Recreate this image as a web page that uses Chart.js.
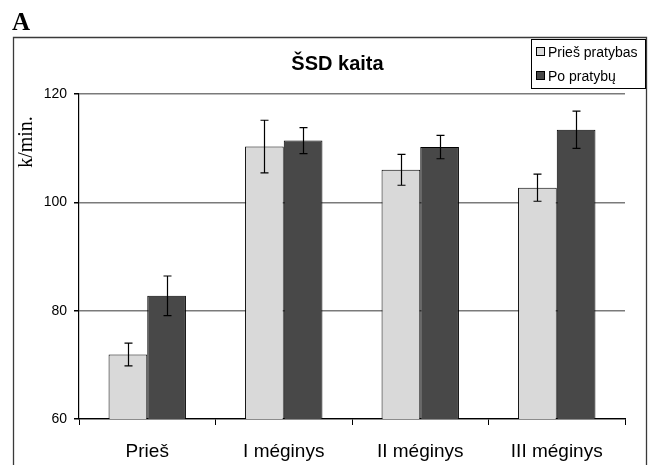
<!DOCTYPE html>
<html>
<head>
<meta charset="utf-8">
<script src="https://cdn.jsdelivr.net/npm/chart.js@4.4.1/dist/chart.umd.min.js"></script>
<style>
  html, body { margin: 0; padding: 0; background: #ffffff; }
  #wrap { position: relative; width: 650px; height: 465px; }
  canvas { display: block; }
</style>
</head>
<body>
<div id="wrap"><canvas id="c" width="650" height="465"></canvas></div>
<script>
// ---- data ----
const panelLabel = 'A';
const chartTitle = 'ŠSD kaita';
const yAxisTitle = 'k/min.';
const categories = ['Prieš', 'I méginys', 'II méginys', 'III méginys'];
const seriesNames = ['Prieš pratybas', 'Po pratybų'];
const beforeValues = [71.9, 110.3, 106.0, 102.7];
const beforeErrors = [2.1, 4.85, 2.85, 2.5];
const afterValues = [82.75, 111.4, 110.2, 113.4];
const afterErrors = [3.65, 2.4, 2.15, 3.45];
const yTicks = [60, 80, 100, 120];

const lightFill = '#d9d9d9';
const darkFill = '#484848';
const errors = [beforeErrors, afterErrors];

const CHART_LEFT = 79, CHART_RIGHT = 625, CHART_TOP = 94, CHART_BOTTOM = 419;

const decorPlugin = {
  id: 'decor',
  afterDraw(chart) {
    const ctx = chart.ctx;
    ctx.save();
    // outer frame
    ctx.strokeStyle = '#3a3a3a';
    ctx.lineWidth = 1.3;
    ctx.beginPath();
    ctx.moveTo(13.5, 470);
    ctx.lineTo(13.5, 37.5);
    ctx.lineTo(646.5, 37.5);
    ctx.lineTo(646.5, 470);
    ctx.stroke();
    // panel label
    ctx.fillStyle = '#000';
    ctx.font = 'bold 25px "Liberation Serif", "Times New Roman", serif';
    ctx.textBaseline = 'alphabetic';
    ctx.textAlign = 'left';
    ctx.fillText(panelLabel, 12, 30);
    // title
    ctx.font = 'bold 20px "Liberation Sans", Arial, sans-serif';
    ctx.textAlign = 'center';
    ctx.fillText(chartTitle, 337.5, 70);
    // y axis title
    ctx.save();
    ctx.translate(32, 142);
    ctx.rotate(-Math.PI / 2);
    ctx.font = '20px "Liberation Serif", "Times New Roman", serif';
    ctx.textAlign = 'center';
    ctx.fillText(yAxisTitle, 0, 0);
    ctx.restore();
    // legend
    ctx.fillStyle = '#fff';
    ctx.fillRect(531.5, 39.5, 114, 49);
    ctx.strokeStyle = '#000';
    ctx.lineWidth = 1;
    ctx.strokeRect(531.5, 39.5, 114, 49);
    const fills = [lightFill, darkFill];
    for (let i = 0; i < seriesNames.length; i++) {
      const cy = 52 + i * 24;
      ctx.fillStyle = fills[i];
      ctx.fillRect(536.5, cy - 4.5, 8, 8);
      ctx.strokeStyle = '#000';
      ctx.strokeRect(536.5, cy - 4.5, 8, 8);
      ctx.fillStyle = '#000';
      ctx.font = '14px "Liberation Sans", Arial, sans-serif';
      ctx.textAlign = 'left';
      ctx.textBaseline = 'middle';
      ctx.fillText(seriesNames[i], 548, cy + 1);
    }
    ctx.restore();
  },
  afterDatasetsDraw(chart) {
    const ctx = chart.ctx;
    const yScale = chart.scales.y;
    ctx.save();
    ctx.strokeStyle = '#000';
    ctx.lineWidth = 1.2;
    chart.data.datasets.forEach((ds, di) => {
      const meta = chart.getDatasetMeta(di);
      meta.data.forEach((bar, i) => {
        const v = ds.data[i];
        const e = errors[di][i];
        const x = Math.round(bar.x) + 0.5;
        const yT = yScale.getPixelForValue(v + e);
        const yB = yScale.getPixelForValue(v - e);
        ctx.beginPath();
        ctx.moveTo(x, yT); ctx.lineTo(x, yB);
        ctx.moveTo(x - 4, yT); ctx.lineTo(x + 4, yT);
        ctx.moveTo(x - 4, yB); ctx.lineTo(x + 4, yB);
        ctx.stroke();
      });
    });
    ctx.restore();
  }
};

new Chart(document.getElementById('c'), {
  type: 'bar',
  data: {
    labels: categories,
    datasets: [
      { label: seriesNames[0], data: beforeValues, backgroundColor: lightFill, borderColor: '#000', borderWidth: 1 },
      { label: seriesNames[1], data: afterValues, backgroundColor: darkFill, borderColor: '#000', borderWidth: 1 }
    ]
  },
  options: {
    responsive: false,
    animation: false,
    devicePixelRatio: 1,
    layout: { padding: { left: 0, right: 650 - CHART_RIGHT, top: CHART_TOP, bottom: 0 } },
    datasets: { bar: { categoryPercentage: 0.567, barPercentage: 1.0 } },
    plugins: { legend: { display: false }, title: { display: false }, tooltip: { enabled: false } },
    scales: {
      x: {
        type: 'category',
        offset: true,
        afterFit(scale) { scale.height = 465 - CHART_BOTTOM; },
        grid: { offset: true, drawOnChartArea: false, drawTicks: true, tickLength: 6, color: '#000', lineWidth: 1 },
        border: { color: '#000', width: 1.2 },
        ticks: { color: '#000', font: { family: '"Liberation Sans", Arial, sans-serif', size: 19 }, padding: 15, maxRotation: 0 }
      },
      y: {
        min: 60, max: 120,
        afterBuildTicks(scale) { scale.ticks = yTicks.map(v => ({ value: v })); },
        afterFit(scale) { scale.width = CHART_LEFT; },
        grid: { color: '#7a7a7a', lineWidth: 1.5, tickLength: 5, tickColor: '#000' },
        border: { color: '#000', width: 1.2 },
        ticks: { color: '#000', font: { family: '"Liberation Sans", Arial, sans-serif', size: 14 }, padding: 7 }
      }
    }
  },
  plugins: [decorPlugin]
});
</script>
</body>
</html>
